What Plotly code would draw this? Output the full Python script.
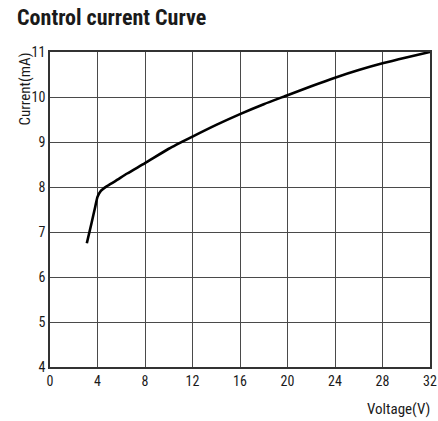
import plotly.graph_objects as go

voltage = [3.1, 3.5, 3.8, 4.0, 4.3, 4.8, 5.5, 6.5, 8, 10, 12, 14, 16, 18, 20, 22, 24, 26, 28, 30, 32]
current = [6.75, 7.2, 7.55, 7.78, 7.92, 8.02, 8.13, 8.3, 8.53, 8.85, 9.12, 9.38, 9.62, 9.84, 10.04, 10.24, 10.43, 10.6, 10.75, 10.88, 11.0]
x_ticks = [0, 4, 8, 12, 16, 20, 24, 28, 32]
y_ticks = [4, 5, 6, 7, 8, 9, 10, 11]

FONT = "Roboto Condensed, Open Sans Condensed, sans-serif"

fig = go.Figure()
fig.add_trace(go.Scatter(x=voltage, y=current, mode="lines",
                         line=dict(color="black", width=2.6, shape="spline", smoothing=0.6),
                         hoverinfo="skip"))

fig.update_layout(
    width=438, height=421,
    margin=dict(l=50, r=8, t=52, b=54),
    paper_bgcolor="white", plot_bgcolor="white",
    showlegend=False,
    font=dict(family=FONT, color="#1a1a1a", size=14),
    title=dict(text="<b>Control current Curve</b>", x=0.039, xanchor="left", y=0.977, yanchor="top",
               font=dict(family=FONT, size=22, color="#1a1a1a")),
    xaxis=dict(range=[0, 32], tickvals=x_ticks, showgrid=True, gridcolor="#4a4a4a", gridwidth=1,
               showline=True, linecolor="#333", linewidth=1.5, mirror=True, zeroline=False,
               ticks="", tickfont=dict(size=14), automargin=False, ticklabeloverflow="allow"),
    yaxis=dict(range=[4, 11], tickvals=y_ticks, showgrid=True, gridcolor="#4a4a4a", gridwidth=1,
               showline=True, linecolor="#333", linewidth=1.5, mirror=True, zeroline=False,
               ticks="", tickfont=dict(size=14), automargin=False, ticklabeloverflow="allow"),
    annotations=[
        dict(text="Current(mA)", xref="paper", yref="paper", x=0, xshift=-26, y=1.0, yshift=1,
             xanchor="center", yanchor="top", textangle=-90, showarrow=False,
             font=dict(size=15, color="#1a1a1a")),
        dict(text="Voltage(V)", xref="paper", yref="paper", x=1.0, xshift=2, y=0, yshift=-31,
             xanchor="right", yanchor="top", showarrow=False, font=dict(size=15, color="#1a1a1a")),
    ],
)

fig.write_html("out.html", config={"displayModeBar": False},
               post_script="document.body.style.margin='0';")
